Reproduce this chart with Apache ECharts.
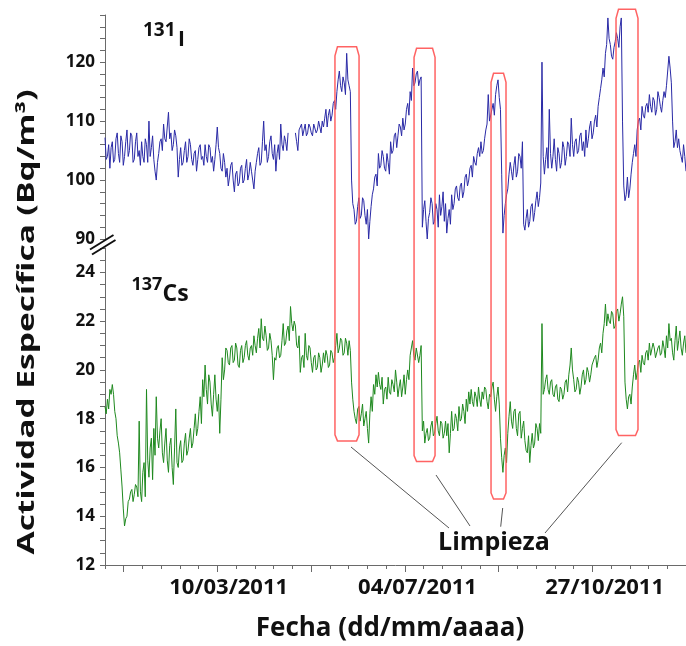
<!DOCTYPE html>
<html><head><meta charset="utf-8">
<script src="https://cdn.jsdelivr.net/npm/echarts@6/dist/echarts.min.js"></script>
<style>html,body{margin:0;padding:0;background:#fff}#c{width:686px;height:646px}</style>
</head><body><div id="c"></div>
<script>
// ---- data ----
const fechaOrigen = '24/12/2010';   // day 0 of the x axis
const pasoDias = 0.75;              // sampling step (days)
const diasVisibles = 357;
const etiquetasFecha = ['10/03/2011', '04/07/2011', '27/10/2011'];
const ticksYIodo = [90, 100, 110, 120];
const ticksYCesio = [12, 14, 16, 18, 20, 22, 24];

const iodo131 = [
107.2,103.5,104.0,106.0,102.0,105.5,106.5,103.0,103.5,107.0,108.0,104.5,103.0,107.5,106.5,102.5,104.0,106.5,108.5,104.0,
105.0,108.0,107.5,103.0,103.5,106.5,108.0,104.0,105.0,102.5,106.5,104.0,103.0,107.0,106.0,103.0,110.0,104.0,105.5,107.5,
103.5,101.5,100.0,103.0,104.5,106.5,107.0,105.0,109.5,107.0,106.5,109.0,111.5,107.0,108.0,105.0,106.0,108.5,107.5,105.5,
100.5,103.5,105.5,102.5,103.0,105.0,106.5,103.0,104.0,107.0,106.0,103.5,102.5,104.5,105.0,101.5,103.5,105.5,106.0,103.5,
104.0,102.5,106.0,104.0,103.0,106.0,105.5,103.0,104.0,101.5,103.5,106.0,109.0,105.5,104.5,102.0,101.5,104.5,103.0,100.5,
102.0,99.0,100.5,102.5,103.0,100.0,98.0,101.0,101.5,99.0,99.5,102.0,102.5,99.5,100.0,102.0,103.5,100.0,101.0,103.0,
101.5,100.0,98.5,101.5,103.0,104.5,105.5,102.5,103.0,106.5,110.0,105.0,106.0,103.0,104.0,106.5,107.5,104.5,103.5,106.0,
101.5,104.5,106.0,103.5,109.5,106.0,105.0,107.5,106.5,105.0,108.0,null,null,null,null,null,108.0,106.5,105.0,108.5,
108.5,109.5,107.5,108.5,109.5,107.5,108.0,109.5,109.0,108.0,107.5,109.5,109.5,108.0,108.5,110.0,109.0,108.0,110.0,109.0,
110.5,112.0,109.0,111.0,112.0,110.0,111.0,113.0,113.5,112.0,115.0,117.0,118.5,116.0,115.0,117.5,116.5,114.5,121.5,117.0,
116.0,115.0,100.0,96.0,95.0,92.5,93.0,95.5,97.0,93.5,94.0,97.0,96.5,94.0,92.5,95.0,90.0,93.0,95.5,97.5,
98.5,100.5,101.0,99.0,104.5,102.0,102.5,105.0,104.0,102.0,101.5,104.5,103.0,101.0,106.5,104.5,105.0,107.5,108.0,105.5,
107.5,109.5,109.0,107.5,110.5,108.5,109.5,112.0,113.0,111.0,115.0,113.5,119.0,116.0,116.5,118.0,118.5,116.0,117.0,117.5,
92.0,95.0,96.5,93.0,90.0,93.5,94.5,97.0,96.0,92.5,93.0,96.0,95.0,92.0,97.5,94.0,95.5,98.0,93.0,96.0,
91.0,93.5,95.0,92.5,97.5,95.0,96.0,98.5,99.0,97.0,96.5,99.0,99.5,97.0,98.0,100.5,101.0,99.0,100.0,102.0,
102.5,100.5,104.0,103.0,102.5,104.5,105.5,104.0,106.5,104.5,105.0,107.0,108.5,109.5,114.5,110.0,110.0,112.0,113.0,111.0,
114.5,116.0,117.0,114.0,112.0,101.0,91.0,94.0,96.0,97.5,98.5,101.0,103.0,101.5,100.0,102.5,104.0,100.5,101.5,104.5,
104.0,102.0,106.5,92.5,91.5,93.5,95.0,92.0,93.0,95.5,96.0,93.0,94.5,96.5,98.0,95.5,97.0,99.5,120.0,104.0,
101.0,103.5,105.5,102.0,112.0,104.5,102.0,104.0,107.0,103.5,101.5,105.5,104.5,102.0,103.0,106.5,105.5,102.5,104.0,106.5,
106.0,104.0,110.5,106.0,104.0,106.5,107.0,104.5,105.0,107.5,108.0,105.0,106.5,104.0,108.5,105.5,107.0,109.0,110.0,107.0,
108.0,110.0,111.0,109.0,112.5,114.0,115.5,117.0,119.0,117.5,121.5,123.0,127.5,124.0,123.0,121.0,120.5,122.5,123.5,125.0,
124.0,122.5,126.0,127.5,110.0,99.0,96.5,97.5,100.5,97.0,98.5,101.0,103.0,104.5,106.0,104.0,108.5,110.0,110.5,108.5,
112.5,111.0,110.5,112.5,113.0,111.5,114.5,112.5,111.5,114.0,113.5,111.0,112.0,115.0,114.0,112.5,111.5,113.5,115.0,114.0,
116.0,118.5,121.0,119.0,116.5,110.0,105.5,106.5,108.5,105.5,107.0,105.0,104.0,103.0,106.0,104.0,101.5
];

const cesio137 = [
18.5,18.2,18.8,18.4,19.2,19.0,19.4,19.0,18.3,18.0,17.3,17.0,16.6,15.9,15.2,14.3,13.6,13.9,14.0,14.6,
14.7,15.0,15.1,14.6,14.9,15.3,15.2,14.8,17.9,15.0,14.6,15.8,16.2,14.8,19.2,16.3,15.6,16.8,17.2,15.5,
17.6,16.5,18.9,17.2,16.8,17.5,18.0,16.6,16.2,17.0,17.6,16.3,15.8,16.9,17.2,16.0,15.3,16.8,18.4,16.2,
16.0,16.8,17.1,16.2,16.3,17.0,17.4,16.5,16.7,17.2,17.6,16.8,17.0,17.6,18.2,17.3,17.6,18.3,18.9,17.8,
19.6,18.9,20.2,19.2,18.6,19.8,19.5,18.6,18.1,19.0,19.8,18.8,18.3,19.0,17.4,18.8,20.5,19.6,20.0,20.9,
20.8,20.3,20.2,20.9,21.0,20.3,20.4,21.1,20.9,20.2,20.1,20.8,21.0,20.3,20.5,21.0,21.2,20.6,20.4,20.9,
21.0,20.6,21.4,21.0,20.7,21.3,21.7,20.9,22.1,21.3,21.2,21.8,21.4,20.8,20.9,21.5,21.2,20.6,19.6,20.5,
20.4,20.9,21.0,20.5,20.6,21.2,21.9,21.0,21.1,21.6,21.8,21.2,22.6,21.9,21.6,22.0,21.8,21.0,20.9,21.4,
19.9,20.5,20.6,20.1,21.5,20.6,20.4,21.0,20.9,20.3,19.9,20.5,20.6,20.0,20.1,20.7,20.5,19.9,20.2,20.7,
20.3,20.8,20.6,20.1,20.2,20.8,20.7,20.3,20.5,21.0,21.5,20.7,20.9,21.3,21.2,20.6,20.7,21.3,21.1,20.6,
21.2,20.8,19.5,18.8,18.3,18.0,17.8,18.4,18.5,17.9,18.2,18.6,17.7,18.0,18.3,17.6,17.0,18.2,18.9,18.3,
19.4,19.0,19.8,19.3,19.9,19.4,19.2,19.7,18.6,19.2,19.3,18.8,19.7,19.1,19.0,19.6,19.4,19.1,20.0,19.5,
18.9,19.3,19.6,18.9,19.3,19.8,19.0,19.6,20.0,19.6,20.6,20.9,21.2,20.6,20.4,20.9,20.9,20.3,20.6,21.0,
17.5,17.9,17.0,17.4,17.6,17.1,17.2,17.7,17.9,17.3,17.4,17.8,18.1,17.5,17.3,17.9,17.8,17.2,17.4,17.9,
17.3,17.8,16.6,17.4,18.3,17.5,17.6,18.2,18.0,17.5,18.5,17.9,18.0,18.6,18.3,17.8,18.8,18.3,19.1,18.6,
19.2,18.7,18.5,19.1,18.9,18.5,19.3,18.8,18.5,19.1,18.8,19.3,19.2,18.7,18.4,19.0,18.9,19.3,19.5,18.8,
18.3,18.9,19.3,18.6,17.2,16.4,15.8,16.5,16.8,16.2,17.4,18.1,18.7,17.9,17.6,18.3,18.4,17.6,17.3,18.2,
18.3,17.2,17.6,17.9,17.1,16.7,16.6,17.3,16.2,16.9,17.4,16.8,17.0,17.8,17.6,17.1,17.8,17.4,21.9,19.0,
19.2,19.6,19.8,19.2,19.0,19.5,19.6,19.0,18.9,19.3,19.4,18.8,18.7,19.3,19.2,18.8,19.0,19.5,19.6,19.1,
19.8,20.2,20.9,20.0,19.6,19.1,19.2,19.7,19.5,19.0,19.3,19.8,20.0,19.4,19.6,20.1,19.9,19.5,19.8,20.2,
20.2,20.5,20.6,20.1,20.4,20.9,21.1,20.7,21.5,21.9,22.7,21.8,22.3,22.0,21.9,22.4,22.3,21.7,21.8,22.4,
22.5,22.0,22.3,22.7,23.0,22.2,19.5,18.8,18.4,18.9,19.0,18.6,19.3,19.8,20.2,19.6,19.9,20.3,20.4,19.9,
20.6,20.3,20.2,20.7,20.8,20.4,21.1,20.6,20.6,21.1,20.9,20.5,20.5,20.9,21.0,20.6,20.7,21.2,20.9,20.5,
21.4,20.9,21.9,21.2,21.3,20.7,20.4,21.2,21.8,20.8,21.2,21.6,20.9,20.6,21.1,21.4,20.7
];

// cleaning ("Limpieza") episodes: start / end day, top on I-131 scale, bottom on Cs-137 scale
const limpiezaInicio = [141.3, 189.9, 237.2, 314.0];
const limpiezaFin    = [156.1, 202.8, 246.4, 327.5];
const limpiezaTopeI  = [122.6, 122.35, 118.1, 128.97];
const limpiezaFondoCs = [17.09, 16.24, 14.71, 17.31];

// ---- helpers ----
function diaDe(str) {
  const [d, m, y] = str.split('/').map(Number);
  const [d0, m0, y0] = fechaOrigen.split('/').map(Number);
  return (Date.UTC(y, m - 1, d) - Date.UTC(y0, m0 - 1, d0)) / 86400000;
}
const diasEtiqueta = etiquetasFecha.map(diaDe);
const pasoTick = 11.52;
const ticksMayores = [];
for (let v = pasoTick; v <= diasVisibles; v += pasoTick * 5) ticksMayores.push(v);

const FF = '"Open Sans", sans-serif';
const ejeColor = '#6a6a6a';

const chart = echarts.init(document.getElementById('c'), null, {renderer: 'canvas'});
const serie = (arr) => arr.map((v, i) => [i * pasoDias, v === null ? '-' : v]);

chart.setOption({
  animation: false,
  backgroundColor: '#fff',
  grid: [
    {left: 105, top: 15, width: 581, height: 224},
    {left: 105, top: 248, width: 581, height: 317}
  ],
  xAxis: [
    {gridIndex: 0, type: 'value', min: 0, max: diasVisibles, show: false},
    {gridIndex: 1, type: 'value', position: 'bottom', min: 0, max: diasVisibles, interval: pasoTick,
      axisLine: {show: true, lineStyle: {color: ejeColor, width: 1}},
      axisTick: {show: true, length: 4, lineStyle: {color: ejeColor}},
      axisLabel: {show: false}, splitLine: {show: false}},
    {gridIndex: 1, type: 'value', position: 'bottom', min: 0, max: diasVisibles,
      axisLine: {show: false},
      axisTick: {show: true, length: 7, customValues: ticksMayores, lineStyle: {color: ejeColor}},
      axisLabel: {show: true, customValues: diasEtiqueta,
        formatter: (v) => { const k = diasEtiqueta.findIndex(d => Math.abs(d - v) < 0.01); return k >= 0 ? etiquetasFecha[k] : ''; },
        fontFamily: FF, fontWeight: 'bold', fontSize: 22, color: '#111', margin: 12},
      splitLine: {show: false}}
  ],
  yAxis: [
    {gridIndex: 0, type: 'value', min: 90, max: 128, interval: 2,
      axisLine: {show: true, lineStyle: {color: ejeColor}},
      axisTick: {show: true, length: 5, lineStyle: {color: ejeColor}},
      axisLabel: {interval: 0, formatter: v => ticksYIodo.includes(v) ? String(v) : '',
        fontFamily: FF, fontWeight: 'bold', fontSize: 17, color: '#111', margin: 10},
      splitLine: {show: false}},
    {gridIndex: 1, type: 'value', min: 12, max: 25, interval: 0.5,
      axisLine: {show: true, lineStyle: {color: ejeColor}},
      axisTick: {show: true, length: 5, lineStyle: {color: ejeColor}},
      axisLabel: {interval: 0, formatter: v => ticksYCesio.includes(v) ? String(v) : '',
        fontFamily: FF, fontWeight: 'bold', fontSize: 17, color: '#111', margin: 10},
      splitLine: {show: false}}
  ],
  series: [
    {name: '131I', type: 'line', xAxisIndex: 0, yAxisIndex: 0, data: serie(iodo131),
      symbol: 'none', silent: true, connectNulls: false, sampling: null,
      lineStyle: {color: '#2a2aa6', width: 1}, itemStyle: {color: '#2a2aa6'}},
    {name: '137Cs', type: 'line', xAxisIndex: 1, yAxisIndex: 1, data: serie(cesio137),
      symbol: 'none', silent: true, sampling: null,
      lineStyle: {color: '#1f891f', width: 1}, itemStyle: {color: '#1f891f'}}
  ]
});

// ---- annotations ----
const g = [];
for (let k = 0; k < limpiezaInicio.length; k++) {
  const l = chart.convertToPixel({xAxisIndex: 0, yAxisIndex: 0}, [limpiezaInicio[k], limpiezaTopeI[k]]);
  const r = chart.convertToPixel({xAxisIndex: 0, yAxisIndex: 0}, [limpiezaFin[k], limpiezaTopeI[k]]);
  const b = chart.convertToPixel({xAxisIndex: 1, yAxisIndex: 1}, [limpiezaInicio[k], limpiezaFondoCs[k]]);
  const x0 = l[0], x1 = r[0], t = l[1], bt = b[1];
  g.push({type: 'polygon', z: 50, silent: true,
    shape: {points: [[x0 + 2.5, t], [x1 - 2.5, t], [x1, t + 9], [x1, bt - 6], [x1 - 2.5, bt], [x0 + 2.5, bt], [x0, bt - 6], [x0, t + 9]]},
    style: {fill: 'none', stroke: '#ff5252', lineWidth: 1.5, opacity: 0.9}});
}
// leader lines to the "Limpieza" label
[[351, 447, 449, 528], [436, 475, 470, 526], [502.7, 508, 500.7, 526.7], [621.7, 442.7, 545, 533]].forEach(s => {
  g.push({type: 'line', silent: true, z: 50, shape: {x1: s[0], y1: s[1], x2: s[2], y2: s[3]}, style: {stroke: '#555', lineWidth: 1}});
});
// axis break marks
g.push({type: 'line', silent: true, z: 60, shape: {x1: 90, y1: 249.5, x2: 113.5, y2: 235}, style: {stroke: '#111', lineWidth: 2}});
g.push({type: 'line', silent: true, z: 60, shape: {x1: 92, y1: 254.5, x2: 115.5, y2: 240}, style: {stroke: '#111', lineWidth: 2}});

function txt(text, x, y, size, align, extra) {
  return Object.assign({type: 'text', silent: true, z: 70, x: x, y: y,
    style: {text: text, font: 'bold ' + size + 'px ' + FF, fill: '#111', align: align || 'left', verticalAlign: 'middle'}}, extra || {});
}
g.push(txt('131', 143, 30.3, 19));
g.push(txt('I', 178, 40.3, 21));
g.push(txt('137', 131.5, 285.3, 18));
g.push(txt('Cs', 162.5, 294, 23));
g.push(txt('Limpieza', 494, 543, 25, 'center'));
g.push(txt('Fecha (dd/mm/aaaa)', 390, 629, 26, 'center'));

// y-axis title, stretched along its length like the reference
const yTitulo = 'Actividad Específica (Bq/m³)';
const ctx = document.createElement('canvas').getContext('2d');
ctx.font = 'bold 23px ' + FF;
const w = ctx.measureText(yTitulo).width || 330;
g.push(txt(yTitulo, 27, 322, 23, 'center', {rotation: Math.PI / 2, scaleX: 465 / w}));

chart.setOption({graphic: g});
</script>
</body></html>
